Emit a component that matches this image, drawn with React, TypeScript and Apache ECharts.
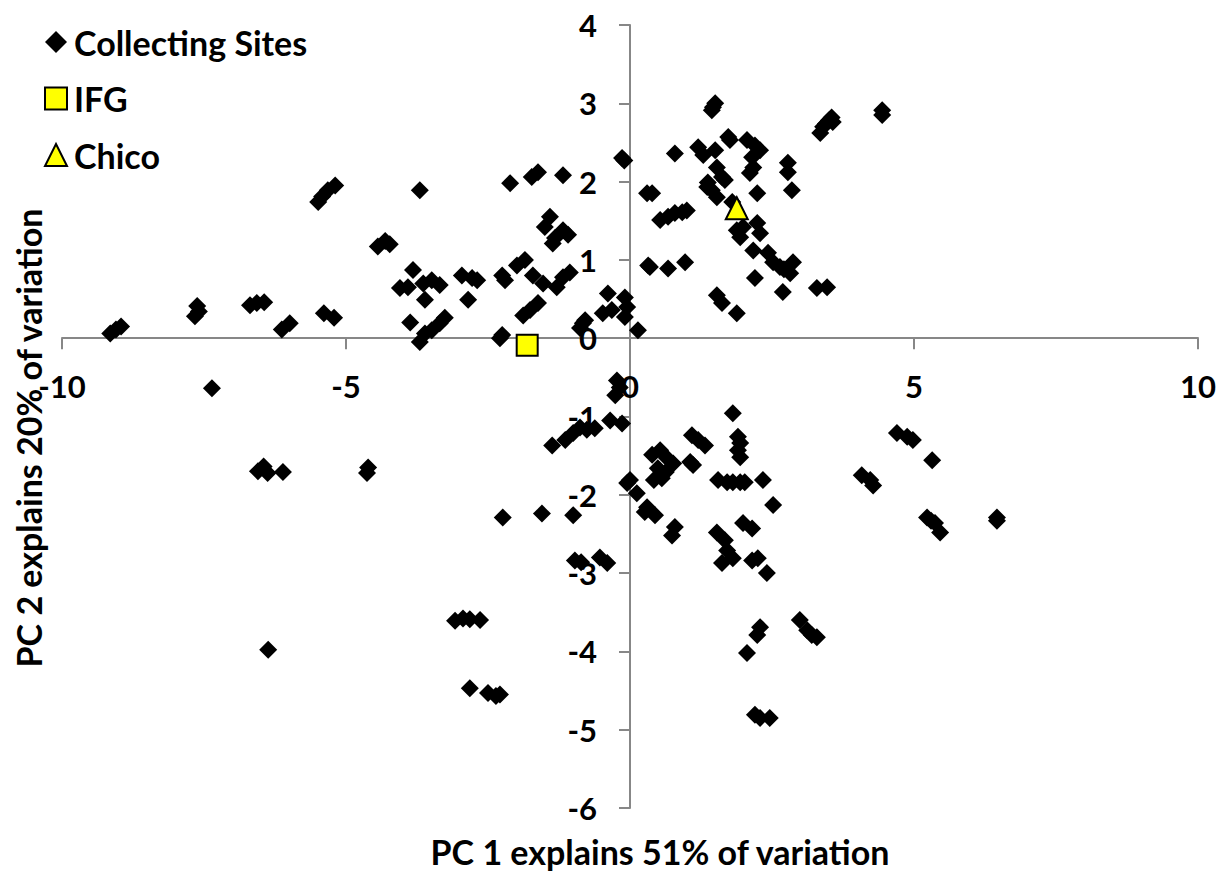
import React, { useEffect, useRef } from "react";
import * as echarts from "echarts";

const xTicks = { min: -10, max: 10, interval: 5 };
const yTicks = { min: -6, max: 4, interval: 1 };

const sitesUpperLeft: [number, number][] = [
  [-9.15, 0.06], [-9.05, 0.11], [-8.96, 0.15],
  [-7.62, 0.41], [-7.66, 0.28], [-7.59, 0.34],
  [-6.69, 0.42], [-6.57, 0.45], [-6.44, 0.46],
  [-6.13, 0.11], [-5.99, 0.19],
  [-5.39, 0.32], [-5.21, 0.26],
  [-5.49, 1.74], [-5.42, 1.81], [-5.32, 1.89], [-5.19, 1.95],
  [-4.44, 1.17], [-4.31, 1.24], [-4.23, 1.2],
  [-3.7, 1.89],
  [-3.82, 0.87], [-4.05, 0.64], [-3.91, 0.65], [-3.64, 0.7], [-3.49, 0.74], [-3.35, 0.68], [-3.61, 0.49],
  [-3.87, 0.2], [-3.7, -0.05], [-3.61, 0.06], [-3.49, 0.1], [-3.35, 0.19], [-3.26, 0.26],
  [-2.96, 0.8], [-2.78, 0.77], [-2.69, 0.74], [-2.85, 0.49],
  [-2.25, 0.8], [-2.2, 0.74],
  [-2.29, 0.0], [-2.25, 0.04],
  [-1.99, 0.93], [-1.85, 1.0], [-1.71, 0.8], [-1.53, 0.7],
  [-1.29, 0.65], [-1.18, 0.78], [-1.06, 0.84],
  [-1.88, 0.29], [-1.76, 0.36], [-1.62, 0.45],
  [-0.83, 0.19], [-0.79, 0.23], [-0.88, 0.13],
  [-2.11, 1.98], [-1.73, 2.06], [-1.62, 2.12], [-1.18, 2.08],
  [-1.41, 1.55], [-1.5, 1.42], [-1.32, 1.28], [-1.18, 1.38], [-1.09, 1.32], [-1.36, 1.21],
  [-0.39, 0.57], [-0.48, 0.32], [-0.09, 0.52], [-0.05, 0.4], [-0.09, 0.27], [-0.32, 0.36],
  [-0.14, 2.3], [-0.1, 2.27],
];

const sitesLowerLeft: [number, number][] = [
  [-7.36, -0.64],
  [-6.55, -1.7], [-6.45, -1.64], [-6.38, -1.72], [-6.11, -1.71],
  [-4.61, -1.65], [-4.63, -1.72],
  [-6.37, -3.98],
  [-3.08, -3.61], [-2.94, -3.58], [-2.82, -3.59], [-2.64, -3.6],
  [-2.82, -4.47],
  [-2.5, -4.53], [-2.36, -4.57], [-2.29, -4.55],
  [-2.24, -2.29], [-1.55, -2.24], [-1.0, -2.26],
  [-1.37, -1.37], [-1.14, -1.3], [-1.0, -1.21], [-0.88, -1.14], [-0.76, -1.17], [-0.62, -1.15], [-0.35, -1.05], [-0.14, -1.09],
  [-0.23, -0.54], [-0.18, -0.63], [-0.26, -0.73],
  [-0.97, -2.84], [-0.86, -2.86], [-0.53, -2.8], [-0.4, -2.87],
  [-0.05, -1.85],
];

const sitesUpperRight: [number, number][] = [
  [1.46, 2.95], [1.44, 2.91], [1.5, 3.0],
  [4.44, 2.91], [4.44, 2.85],
  [3.35, 2.62], [3.4, 2.7], [3.5, 2.78], [3.55, 2.82], [3.45, 2.74], [3.57, 2.76],
  [0.79, 2.36],
  [1.2, 2.44], [1.29, 2.34], [1.5, 2.4],
  [1.73, 2.57], [1.76, 2.53],
  [2.06, 2.53], [2.2, 2.46], [2.29, 2.4], [2.15, 2.31], [2.17, 2.18], [2.11, 2.11],
  [2.78, 2.24], [2.78, 2.12],
  [2.85, 1.89],
  [1.53, 2.18], [1.62, 2.06], [1.67, 2.02], [1.36, 1.93], [1.44, 1.89], [1.53, 1.8], [1.37, 1.99],
  [2.24, 1.85],
  [0.39, 1.85], [0.3, 1.85],
  [0.53, 1.51], [0.67, 1.55], [0.79, 1.6], [0.92, 1.61], [1.0, 1.63],
  [1.8, 1.74],
  [1.88, 1.38], [1.99, 1.42], [2.24, 1.47], [2.29, 1.34], [1.94, 1.29],
  [2.17, 1.12],
  [2.43, 1.09], [2.52, 0.97], [2.64, 0.91], [2.87, 0.97], [2.82, 0.83], [2.71, 0.88],
  [2.2, 0.77],
  [2.69, 0.59],
  [3.29, 0.64], [3.47, 0.65],
  [0.35, 0.91], [0.67, 0.89], [0.97, 0.97],
  [0.32, 0.93],
  [1.53, 0.55], [1.62, 0.45],
  [1.88, 0.32],
  [0.14, 0.1],
];

const sitesLowerRight: [number, number][] = [
  [1.81, -0.96],
  [1.9, -1.26], [1.94, -1.34], [1.9, -1.43], [1.94, -1.52],
  [1.09, -1.24], [1.2, -1.3], [1.32, -1.37],
  [0.39, -1.49], [0.53, -1.43], [0.65, -1.53], [0.76, -1.6], [0.49, -1.66], [0.63, -1.71], [0.42, -1.81], [0.56, -1.79],
  [1.06, -1.58], [1.11, -1.62],
  [0.0, -1.81], [0.12, -1.98],
  [0.3, -2.16], [0.44, -2.26], [0.26, -2.22],
  [0.79, -2.41], [0.74, -2.52],
  [1.55, -1.81], [1.71, -1.84], [1.81, -1.84], [1.94, -1.84], [2.02, -1.84],
  [2.34, -1.81],
  [2.52, -2.13],
  [1.99, -2.36], [2.15, -2.43],
  [1.53, -2.48], [1.67, -2.58], [1.71, -2.71], [1.62, -2.87], [1.81, -2.81],
  [2.15, -2.84], [2.25, -2.81],
  [2.41, -3.0],
  [4.7, -1.21], [4.88, -1.26], [4.98, -1.3],
  [5.32, -1.56],
  [4.08, -1.75], [4.23, -1.81], [4.28, -1.88],
  [5.23, -2.29], [5.37, -2.36], [5.46, -2.48], [5.3, -2.33],
  [6.46, -2.29], [6.46, -2.33],
  [2.29, -3.69], [2.24, -3.79], [2.06, -4.02],
  [2.99, -3.6], [3.12, -3.73], [3.2, -3.79], [3.29, -3.82],
  [2.2, -4.81], [2.29, -4.85], [2.46, -4.85],
];

const ifgPoint: [number, number][] = [[-1.81, -0.09]];
const chicoPoint: [number, number][] = [[1.88, 1.66]];

const seriesNames = ["Collecting Sites", "IFG", "Chico"];
const xTitle = "PC 1 explains 51% of variation";
const yTitle = "PC 2 explains 20% of variation";

const FONT = "Lato, 'Open Sans', sans-serif";

// grid geometry (pixels)
const GRID = { left: 62, right: 28, top: 25, bottom: 63 };
const W = 1226;
const H = 871;

export default function App() {
  const ref = useRef<HTMLDivElement>(null);
  useEffect(() => {
    if (!ref.current) return;
    const chart = echarts.init(ref.current, undefined, { renderer: "svg" });
    const sites = [...sitesUpperLeft, ...sitesLowerLeft, ...sitesUpperRight, ...sitesLowerRight];
    const axisLineStyle = { color: "#878787", width: 2 };
    const labelStyle = { color: "#000", fontSize: 31, fontWeight: "bold" as const, fontFamily: FONT };
    const plotW = W - GRID.left - GRID.right;
    const plotH = H - GRID.top - GRID.bottom;
    // shift axes so they cross at (0, 0), keeping labels with the lines
    const xZeroPx = GRID.left + ((0 - xTicks.min) / (xTicks.max - xTicks.min)) * plotW;
    const yZeroPx = GRID.top + ((yTicks.max - 0) / (yTicks.max - yTicks.min)) * plotH;
    const xAxisOffset = -(H - GRID.bottom - yZeroPx);
    const yAxisOffset = -(xZeroPx - GRID.left);
    chart.setOption({
      animation: false,
      backgroundColor: "#fff",
      grid: { ...GRID, containLabel: false },
      legend: {
        orient: "vertical",
        left: 44,
        top: 25,
        padding: 0,
        itemWidth: 22,
        itemHeight: 22,
        itemGap: 22.5,
        data: seriesNames,
        textStyle: { color: "#000", fontSize: 34, fontWeight: "bold", fontFamily: FONT, lineHeight: 34, padding: [0, 0, 0, 2] },
      },
      xAxis: {
        type: "value",
        min: xTicks.min,
        max: xTicks.max,
        interval: xTicks.interval,
        offset: xAxisOffset,
        axisLine: { show: true, onZero: false, lineStyle: axisLineStyle },
        axisTick: { show: true, inside: false, length: 11, lineStyle: axisLineStyle },
        axisLabel: { ...labelStyle, margin: 32 },
        splitLine: { show: false },
      },
      yAxis: {
        type: "value",
        min: yTicks.min,
        max: yTicks.max,
        interval: yTicks.interval,
        offset: yAxisOffset,
        axisLine: { show: true, onZero: false, lineStyle: axisLineStyle },
        axisTick: { show: true, inside: false, length: 11, lineStyle: axisLineStyle },
        axisLabel: { ...labelStyle, margin: 33 },
        splitLine: { show: false },
      },
      graphic: [
        {
          type: "text",
          x: 660,
          y: 851,
          style: { text: xTitle, fill: "#000", font: `bold 34px ${FONT}`, align: "center", verticalAlign: "middle" },
        },
        {
          type: "text",
          x: 28,
          y: 438,
          rotation: Math.PI / 2,
          style: { text: yTitle, fill: "#000", font: `bold 34px ${FONT}`, align: "center", verticalAlign: "middle" },
        },
      ],
      series: [
        {
          name: seriesNames[0],
          type: "scatter",
          symbol: "diamond",
          symbolSize: 18,
          itemStyle: { color: "#000", opacity: 1 },
          data: sites,
        },
        {
          name: seriesNames[1],
          type: "scatter",
          symbol: "rect",
          symbolSize: 21,
          itemStyle: { color: "#FFFF00", borderColor: "#000", borderWidth: 2, opacity: 1 },
          data: ifgPoint,
        },
        {
          name: seriesNames[2],
          type: "scatter",
          symbol: "triangle",
          symbolSize: 22,
          itemStyle: { color: "#FFFF00", borderColor: "#000", borderWidth: 2, opacity: 1 },
          data: chicoPoint,
        },
      ],
    });
    return () => chart.dispose();
  }, []);
  return (
    <div
      ref={ref}
      style={{ position: "fixed", left: 0, top: 0, width: W, height: H, background: "#fff" }}
    />
  );
}
